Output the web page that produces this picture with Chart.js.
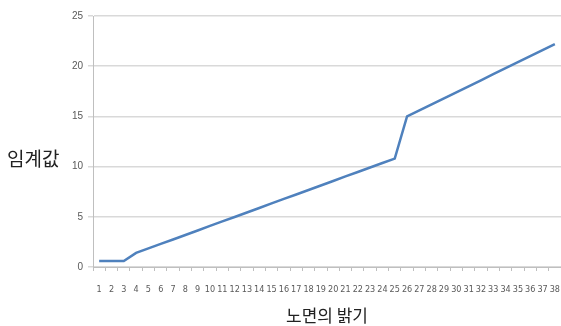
<!DOCTYPE html>
<html><head><meta charset="utf-8">
<script src="https://cdn.jsdelivr.net/npm/chart.js@4"></script>
<style>html,body{margin:0;padding:0;background:#fff;overflow:hidden}#wrap{width:561px;height:326px;position:relative;overflow:hidden}</style>
</head><body><div id="wrap"><canvas id="c" width="573" height="326"></canvas></div>
<script>
const categories = ["1","2","3","4","5","6","7","8","9","10","11","12","13","14","15","16","17","18","19","20","21","22","23","24","25","26","27","28","29","30","31","32","33","34","35","36","37","38"];
const thresholdValues = [0.6,0.6,0.6,1.4,1.85,2.3,2.74,3.19,3.64,4.09,4.54,4.98,5.43,5.88,6.33,6.78,7.22,7.67,8.12,8.57,9.02,9.46,9.91,10.36,10.8,15.0,15.6,16.2,16.8,17.4,18.0,18.6,19.2,19.8,20.4,21.0,21.6,22.2];
const yTicks = [0,5,10,15,20,25];
const xTitle = "노면의 밝기";
const yTitle = "임계값";

const yTitlePlugin = {
  id: 'yTitle',
  afterDraw(chart) {
    const ctx = chart.ctx;
    ctx.save();
    ctx.font = '19px "Noto Sans CJK KR"';
    ctx.fillStyle = '#222';
    ctx.textAlign = 'left';
    ctx.textBaseline = 'middle';
    ctx.fillText(yTitle, 7, 159);
    ctx.restore();
  }
};

new Chart(document.getElementById('c'), {
  type: 'line',
  data: { labels: categories, datasets: [{ data: thresholdValues, borderColor: '#4f81bd', borderWidth: 2.5, pointRadius: 0, tension: 0, fill: false }] },
  options: {
    responsive: false, animation: false,
    layout: { padding: { left: 0, right: 0, top: 16, bottom: 0 } },
    plugins: { legend: { display: false }, tooltip: { enabled: false } },
    scales: {
      x: {
        offset: true,
        afterFit(scale) { scale.height = 59; },
        grid: { offset: true, drawOnChartArea: false, drawTicks: true, tickLength: 4, color: '#bfbfbf' },
        border: { color: '#bfbfbf' },
        ticks: { autoSkip: false, maxRotation: 0, minRotation: 0, padding: 13, color: '#595959', font: { size: 9, family: '"DejaVu Sans Condensed", "Liberation Sans"' } },
        title: { display: true, text: xTitle, color: '#222', font: { size: 17, family: '"Noto Sans CJK KR"' }, padding: { top: 3, bottom: 0 } }
      },
      y: {
        min: 0, max: 25,
        afterBuildTicks(scale) { scale.ticks = yTicks.map(v => ({ value: v })); },
        afterFit(scale) { scale.width = 93; },
        grid: { color: '#d9d9d9', tickLength: 5, lineWidth: 1.5 },
        border: { color: '#bfbfbf' },
        ticks: { padding: 5, color: '#595959', font: { size: 10, family: '"Liberation Sans"' } }
      }
    }
  },
  plugins: [yTitlePlugin]
});
</script></body></html>
